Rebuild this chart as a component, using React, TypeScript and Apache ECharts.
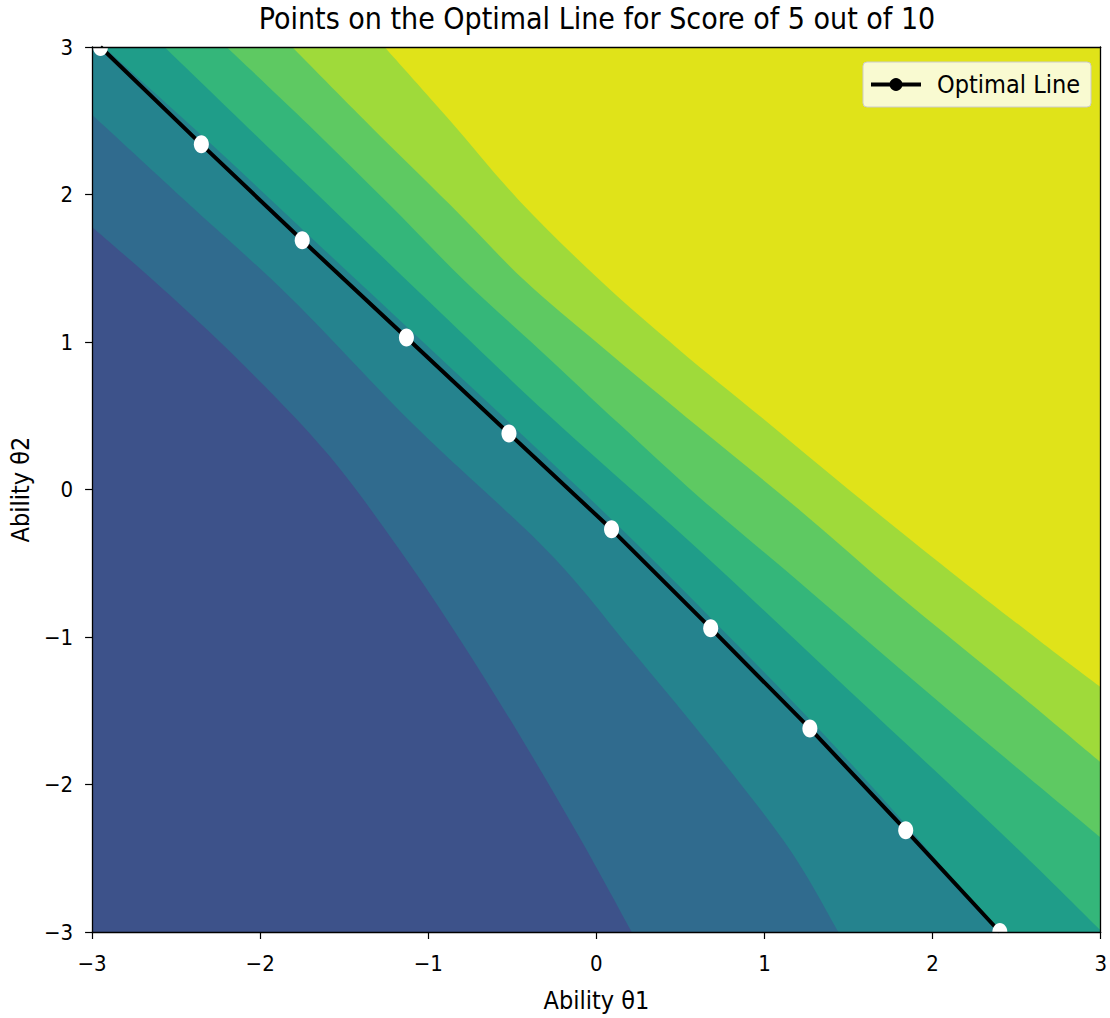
import React, { useEffect, useRef } from "react";
import * as echarts from "echarts";

const FONT = "'DejaVu Sans Condensed', 'DejaVu Sans', sans-serif";

// Points along the optimal line (θ1, θ2)
const optimalTheta1 = [-2.95, -2.35, -1.75, -1.13, -0.52, 0.09, 0.68, 1.27, 1.84, 2.4];
const optimalTheta2 = [3.0, 2.34, 1.69, 1.03, 0.38, -0.27, -0.94, -1.62, -2.31, -3.0];

const axisMin = -3;
const axisMax = 3;

// Filled-contour band colours, lowest expected score first
const bandColors = [
  "#3d528a",
  "#306b8e",
  "#25838e",
  "#1f9d89",
  "#34b67a",
  "#5ec962",
  "#9fda3a",
  "#e0e319",
];

// Contour boundaries between consecutive bands, each traced from the
// left/top edge of the plot to the bottom/right edge
const edge1 = [[-3, 1.78], [-2.54, 1.32], [-2.06, 0.8], [-1.59, 0.23], [-1.17, -0.41], [-0.81, -1.02], [-0.46, -1.66], [-0.1, -2.36], [0.21, -3]];
const edge2 = [[-3, 2.54], [-2.42, 1.93], [-1.81, 1.29], [-1.07, 0.42], [-0.28, -0.43], [0.21, -1.09], [0.7, -1.77], [1.15, -2.44], [1.44, -3]];
const edge3 = [[-2.93, 3], [-2.29, 2.34], [-1.68, 1.69], [-1.06, 1.03], [-0.45, 0.38], [0.16, -0.28], [0.74, -0.94], [1.32, -1.62], [1.87, -2.31], [2.38, -3]];
const edge4 = [[-2.57, 3], [-1.76, 2.11], [-1.01, 1.29], [-0.28, 0.5], [0.61, -0.41], [1.5, -1.36], [2.39, -2.31], [3, -2.99]];
const edge5 = [[-2.2, 3], [-1.71, 2.47], [-1.23, 1.93], [-0.78, 1.41], [-0.34, 0.95], [0.14, 0.44], [0.61, -0.05], [1.21, -0.63], [1.8, -1.21], [2.39, -1.78], [3, -2.36]];
const edge6 = [[-1.81, 3], [-1.35, 2.47], [-0.87, 1.93], [-0.43, 1.42], [0.02, 0.98], [0.61, 0.42], [1.21, -0.14], [1.8, -0.72], [2.39, -1.27], [3, -1.85]];
const edge7 = [[-1.26, 3], [-0.87, 2.5], [-0.46, 1.96], [0.02, 1.42], [0.49, 0.95], [0.97, 0.5], [1.5, 0.0], [2.1, -0.55], [2.63, -1.02], [3, -1.34]];

const bandEdges = [edge1, edge2, edge3, edge4, edge5, edge6, edge7];

const minusSign = (v: number) => String(v).replace("-", "\u2212");

// A filled band: a smooth (Catmull-Rom) boundary followed by straight runs
// along the plot border.
const ContourBand = echarts.graphic.extendShape({
  shape: { edge: [] as number[][], corners: [] as number[][] },
  buildPath(ctx: any, shape: any) {
    const e: number[][] = shape.edge;
    if (!e.length) return;
    ctx.moveTo(e[0][0], e[0][1]);
    for (let i = 0; i < e.length - 1; i++) {
      const p0 = e[i - 1] || e[i];
      const p1 = e[i];
      const p2 = e[i + 1];
      const p3 = e[i + 2] || e[i + 1];
      ctx.bezierCurveTo(
        p1[0] + (p2[0] - p0[0]) / 6,
        p1[1] + (p2[1] - p0[1]) / 6,
        p2[0] - (p3[0] - p1[0]) / 6,
        p2[1] - (p3[1] - p1[1]) / 6,
        p2[0],
        p2[1]
      );
    }
    for (const c of shape.corners) ctx.lineTo(c[0], c[1]);
    ctx.closePath();
  },
});
echarts.graphic.registerShape("contourBand", ContourBand);

export default function App() {
  const ref = useRef<HTMLDivElement>(null);

  useEffect(() => {
    if (!ref.current) return;
    const chart = echarts.init(ref.current, undefined, { renderer: "svg" });

    const linePoints = optimalTheta1.map((x, i) => [x, optimalTheta2[i]]);
    const bandIndex = bandColors.map((_, i) => [i]);

    const baseAxis = {
      type: "value" as const,
      min: axisMin,
      max: axisMax,
      interval: 1,
      splitLine: { show: false },
      z: 10,
    };

    const spine = { show: true, onZero: false, lineStyle: { color: "#000", width: 1.3 } };

    chart.setOption({
      animation: false,
      backgroundColor: "#fff",
      title: {
        text: "Points on the Optimal Line for Score of 5 out of 10",
        left: 597,
        top: 3,
        padding: 0,
        textAlign: "center",
        textStyle: { fontFamily: FONT, fontSize: 30, fontWeight: "normal", color: "#000" },
      },
      legend: {
        data: ["Optimal Line"],
        right: 19,
        top: 62,
        orient: "vertical",
        itemWidth: 50,
        itemHeight: 16,
        padding: [10, 11, 10, 6],
        backgroundColor: "rgba(255,255,255,0.8)",
        borderColor: "#cccccc",
        borderWidth: 1,
        borderRadius: 4,
        lineStyle: { width: 4 },
        textStyle: { fontFamily: FONT, fontSize: 25, color: "#000", padding: [0, 0, 0, 11] },
      },
      grid: { left: 92, top: 47, width: 1010, height: 885, containLabel: false },
      xAxis: [
        {
          ...baseAxis,
          position: "bottom",
          axisLine: spine,
          axisTick: { show: true, length: 7, lineStyle: { color: "#000", width: 1.2 } },
          axisLabel: { margin: 20, fontFamily: FONT, fontSize: 22, color: "#000", formatter: minusSign },
          name: "Ability θ1",
          nameLocation: "middle",
          nameGap: 56,
          nameTextStyle: { fontFamily: FONT, fontSize: 25, color: "#000" },
        },
        {
          ...baseAxis,
          position: "top",
          axisLine: spine,
          axisTick: { show: false },
          axisLabel: { show: false },
        },
      ],
      yAxis: [
        {
          ...baseAxis,
          position: "left",
          axisLine: spine,
          axisTick: { show: true, length: 7, lineStyle: { color: "#000", width: 1.2 } },
          axisLabel: { margin: 19, fontFamily: FONT, fontSize: 22, color: "#000", formatter: minusSign },
          name: "Ability θ2",
          nameLocation: "middle",
          nameGap: 58,
          nameTextStyle: { fontFamily: FONT, fontSize: 25, color: "#000" },
        },
        {
          ...baseAxis,
          position: "right",
          axisLine: spine,
          axisTick: { show: false },
          axisLabel: { show: false },
        },
      ],
      series: [
        {
          type: "custom",
          name: "contours",
          xAxisIndex: 0,
          yAxisIndex: 0,
          clip: true,
          silent: true,
          z: 1,
          data: bandIndex,
          renderItem: (params: any, api: any) => {
            const i = api.value(0);
            const toPx = (pts: number[][]) => pts.map((p) => api.coord(p));
            if (i === 0) {
              return {
                type: "polygon",
                shape: { points: toPx([[axisMin, axisMin], [axisMax, axisMin], [axisMax, axisMax], [axisMin, axisMax]]) },
                style: { fill: bandColors[0] },
              };
            }
            const e = bandEdges[i - 1];
            const s = e[0];
            const t = e[e.length - 1];
            const corners: number[][] = [];
            if (t[1] === axisMin && t[0] < axisMax) corners.push([axisMax, axisMin]);
            corners.push([axisMax, axisMax]);
            if (s[0] === axisMin && s[1] < axisMax) corners.push([axisMin, axisMax]);
            return {
              type: "contourBand",
              shape: { edge: toPx(e), corners: toPx(corners) },
              style: { fill: bandColors[i] },
            };
          },
        },
        {
          type: "line",
          name: "Optimal Line",
          xAxisIndex: 0,
          yAxisIndex: 0,
          data: linePoints,
          showSymbol: false,
          symbol: "circle",
          itemStyle: { color: "#000" },
          lineStyle: { color: "#000", width: 4 },
          z: 3,
        },
        {
          type: "custom",
          name: "markers",
          xAxisIndex: 0,
          yAxisIndex: 0,
          clip: true,
          silent: true,
          z: 4,
          data: linePoints,
          renderItem: (params: any, api: any) => {
            const p = api.coord([api.value(0), api.value(1)]);
            return {
              type: "ellipse",
              shape: { cx: p[0], cy: p[1], rx: 7.5, ry: 9 },
              style: { fill: "#fff" },
            };
          },
        },
      ],
    });

    return () => chart.dispose();
  }, []);

  return (
    <div
      ref={ref}
      style={{ position: "fixed", left: 0, top: 0, width: 1110, height: 1018, background: "#fff" }}
    />
  );
}
